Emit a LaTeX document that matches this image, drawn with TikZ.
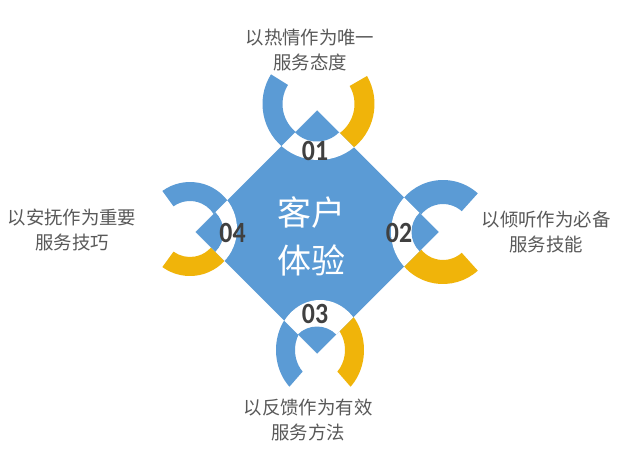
\documentclass[tikz,border=0pt]{standalone}
\usepackage{fontspec}
\newfontfamily\cjk{Noto Sans CJK SC}
\newfontfamily\numfont{Carlito}
\usetikzlibrary{calc}
\definecolor{dblue}{RGB}{91,155,213}
\definecolor{dgold}{RGB}{240,180,10}
\definecolor{tgray}{RGB}{89,89,89}
\definecolor{ngray}{RGB}{64,64,64}
\newcommand\ringarc[8]{%
  \fill[#8] ($(#1)+(#2:#6 and #7)$) arc[start angle=#2, end angle=#3, x radius=#6, y radius=#7]
    -- ($(#1)+(#3:#4 and #5)$) arc[start angle=#3, end angle=#2, x radius=#4, y radius=#5] -- cycle;}
\newcommand\numtext[1]{\scalebox{0.88}[1]{#1}}
\tikzset{
  numlabel/.style={inner sep=0pt, text=ngray, font=\numfont\bfseries\fontsize{22}{22}\selectfont},
  sidelabel/.style={inner sep=0pt, text=tgray, align=center, font=\cjk\fontsize{13.8}{18.75}\selectfont},
  centerlabel/.style={inner sep=0pt, text=white, align=center, font=\cjk\fontsize{25.5}{36}\selectfont}
}
\begin{document}
\begin{tikzpicture}[x=0.75pt,y=0.75pt]
\useasboundingbox (0,0) rectangle (626,451);
\fill[white] (0,0) rectangle (626,451);
% diamond vertices
\coordinate (T) at (317,340.5);
\coordinate (R) at (438.5,219);
\coordinate (B) at (317,97.5);
\coordinate (L) at (195.5,219);
% ring centres
\coordinate (cT) at (318.5,347);
\coordinate (cR) at (443,219);
\coordinate (cB) at (320,101);
\coordinate (cL) at (190,222);
% arcs
\ringarc{cT}{148}{235}{36}{36}{56}{56}{dblue}
\ringarc{cT}{-55}{30}{36}{36}{56}{56}{dgold}
\ringarc{cR}{48}{160}{28}{28}{52}{52}{dblue}
\ringarc{cR}{200}{312}{28}{28}{52}{52}{dgold}
\ringarc{cB}{130}{226}{25}{30}{44}{51}{dblue}
\ringarc{cB}{-46}{50}{25}{30}{44}{51}{dgold}
\ringarc{cL}{20}{126}{28}{28}{47}{47}{dblue}
\ringarc{cL}{234}{340}{28}{28}{47}{47}{dgold}
% diamond
\fill[dblue] (T) -- (R) -- (B) -- (L) -- cycle;
\begin{scope}
  \clip (T) -- (R) -- (B) -- (L) -- cycle;
  \fill[white] (cT) circle[radius=56];
  \fill[white] (cR) circle[radius=52];
  \fill[white] (cB) ellipse[x radius=44, y radius=50];
  \fill[white] (cL) circle[radius=47];
  \fill[dblue] (T) circle[radius=31];
  \fill[dblue] (R) circle[radius=27];
  \fill[dblue] (B) circle[radius=27];
  \fill[dblue] (L) circle[radius=28];
\end{scope}
% texts
\node[centerlabel] (ctr) at (311,215) {客户\\体验};
\node[numlabel] (n1) at (315,300) {\numtext{01}};
\node[numlabel] (n2) at (399,218.5) {\numtext{02}};
\node[numlabel] (n3) at (315,137) {\numtext{03}};
\node[numlabel] (n4) at (232.5,218) {\numtext{04}};
\node[sidelabel] (t1) at (310,400.5) {以热情作为唯一\\服务态度};
\node[sidelabel] (t2) at (546,219) {以倾听作为必备\\服务技能};
\node[sidelabel] (t3) at (308,30.5) {以反馈作为有效\\服务方法};
\node[sidelabel] (t4) at (72,221.5) {以安抚作为重要\\服务技巧};
\end{tikzpicture}
\end{document}
